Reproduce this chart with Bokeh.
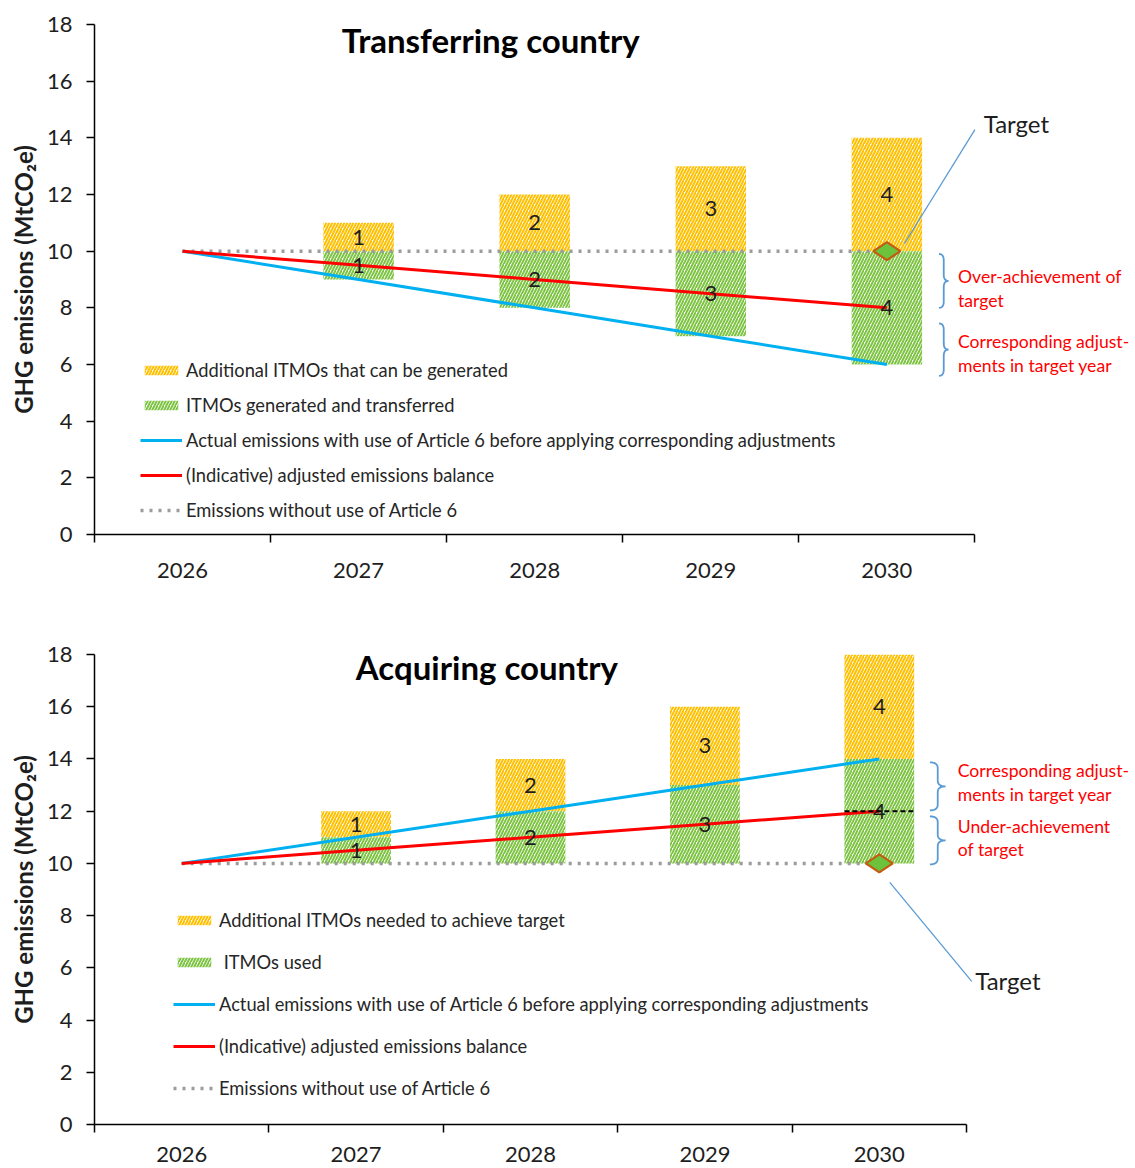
import math
import numpy as np
from bokeh.plotting import figure
from bokeh.models import Range1d, FixedTicker, Legend, LegendItem, ColumnDataSource
from bokeh.layouts import column
from bokeh.embed import file_html
from bokeh.resources import INLINE
from bokeh.core.properties import value

# ---------------- data ----------------
years = ["2026", "2027", "2028", "2029", "2030"]
y_ticks = [0, 2, 4, 6, 8, 10, 12, 14, 16, 18]

# Transferring country
tr_baseline = [10, 10, 10, 10, 10]
tr_actual = [10, 9, 8, 7, 6]
tr_adjusted = [10, 9.5, 9, 8.5, 8]
tr_transferred = [0, 1, 2, 3, 4]
tr_additional = [0, 1, 2, 3, 4]
tr_target = 10

# Acquiring country
aq_baseline = [10, 10, 10, 10, 10]
aq_actual = [10, 11, 12, 13, 14]
aq_adjusted = [10, 10.5, 11, 11.5, 12]
aq_used = [0, 1, 2, 3, 4]
aq_additional = [0, 1, 2, 3, 4]
aq_target = 10

tr_labels = ["Additional ITMOs that can be generated", "ITMOs generated and transferred",
             "Actual emissions with use of Article 6 before applying corresponding adjustments",
             "(Indicative) adjusted emissions balance", "Emissions without use of Article 6"]
aq_labels = ["Additional ITMOs needed to achieve target", " ITMOs used",
             "Actual emissions with use of Article 6 before applying corresponding adjustments",
             "(Indicative) adjusted emissions balance", "Emissions without use of Article 6"]

# ---------------- style ----------------
FONT = "Lato"
ORANGE = "#FFC000"
GREEN = "#7DC443"
BLUE = "#00B0F0"
RED = "#FF0000"
GREY = "#9C9C9C"
BRACE = "#5B9BD5"
TXT = "#1E1E1E"

centers = [i + 0.5 for i in range(len(years))]


def brace_path(x0, x1, ytop, ybot, hook):
    xm = (x0 + x1) / 2
    ymid = (ytop + ybot) / 2
    t = np.linspace(0, 1, 8)

    def quad(p0, p1, p2):
        return [((1 - s) ** 2 * p0[0] + 2 * (1 - s) * s * p1[0] + s ** 2 * p2[0],
                 (1 - s) ** 2 * p0[1] + 2 * (1 - s) * s * p1[1] + s ** 2 * p2[1]) for s in t]
    pts = []
    pts += quad((x0, ytop), (xm, ytop), (xm, ytop - hook))
    pts += quad((xm, ymid + hook), (xm, ymid), (x1, ymid))
    pts += quad((x1, ymid), (xm, ymid), (xm, ymid - hook))
    pts += quad((xm, ybot + hook), (xm, ybot), (x0, ybot))
    xs, ys = zip(*pts)
    return list(xs), list(ys)


def base_fig(height, x_end, border_left, border_top, border_bottom, label_standoff):
    p = figure(width=1135, height=height, x_range=Range1d(0, x_end), y_range=Range1d(0, 18),
               output_backend="svg", toolbar_location=None,
               min_border_left=border_left, min_border_right=0,
               min_border_top=border_top, min_border_bottom=border_bottom)
    p.xgrid.visible = False
    p.ygrid.visible = False
    p.outline_line_color = None
    p.background_fill_color = "white"
    # x axis: labels at category centres, tick marks between categories
    xa = p.xaxis[0]
    xa.ticker = FixedTicker(ticks=centers, minor_ticks=list(range(len(years) + 1)))
    xa.major_label_overrides = {c: y for c, y in zip(centers, years)}
    xa.bounds = (0, len(years))
    xa.major_tick_out = 0
    xa.major_tick_in = 0
    xa.minor_tick_out = 8
    xa.minor_tick_in = 0
    xa.minor_tick_line_color = "black"
    xa.minor_tick_line_width = 1.5
    xa.axis_line_color = "black"
    xa.axis_line_width = 1.5
    xa.major_label_text_font = FONT
    xa.major_label_text_font_size = "22px"
    xa.major_label_text_color = TXT
    xa.major_label_standoff = label_standoff
    # y axis
    ya = p.yaxis[0]
    ya.ticker = FixedTicker(ticks=y_ticks, minor_ticks=[])
    ya.major_tick_out = 8
    ya.major_tick_in = 0
    ya.major_tick_line_width = 1.5
    ya.axis_line_width = 1.5
    ya.axis_line_color = "black"
    ya.major_label_text_font = FONT
    ya.major_label_text_font_size = "22px"
    ya.major_label_text_color = TXT
    ya.major_label_standoff = 14
    ya.axis_label = "GHG emissions (MtCO\u2082e)"
    ya.axis_label_text_font = FONT
    ya.axis_label_text_font_style = "bold"
    ya.axis_label_text_font_size = "24px"
    ya.axis_label_text_color = TXT
    ya.axis_label_standoff = 6
    return p


def draw(p, baseline, actual, adjusted, green_vals, orange_vals, target, green_below, labels,
         legend_loc, legend_spacing):
    idx = [i for i, v in enumerate(green_vals) if v > 0]
    xs = [centers[i] for i in idx]
    if green_below:
        g_bot = [baseline[i] - green_vals[i] for i in idx]
        g_top = [baseline[i] for i in idx]
    else:
        g_bot = [baseline[i] for i in idx]
        g_top = [baseline[i] + green_vals[i] for i in idx]
    o_bot = [g_top[k] if not green_below else baseline[i] for k, i in enumerate(idx)]
    o_top = [o_bot[k] + orange_vals[i] for k, i in enumerate(idx)]

    gsrc = ColumnDataSource(dict(x=xs, bottom=g_bot, top=g_top,
                                 ym=[(a + b) / 2 for a, b in zip(g_bot, g_top)],
                                 t=[str(green_vals[i]) for i in idx]))
    osrc = ColumnDataSource(dict(x=xs, bottom=o_bot, top=o_top,
                                 ym=[(a + b) / 2 for a, b in zip(o_bot, o_top)],
                                 t=[str(orange_vals[i]) for i in idx]))
    r_or = p.vbar(x="x", bottom="bottom", top="top", width=0.4, source=osrc,
                  fill_color="white", line_color=None, hatch_pattern="/",
                  hatch_color=ORANGE, hatch_scale=6, hatch_weight=2)
    r_gr = p.vbar(x="x", bottom="bottom", top="top", width=0.4, source=gsrc,
                  fill_color="white", line_color=None, hatch_pattern="/",
                  hatch_color=GREEN, hatch_scale=6, hatch_weight=2)
    r_base = p.line(centers, baseline, line_color=GREY, line_width=3.5, line_dash="3 6")
    r_act = p.line(centers, actual, line_color=BLUE, line_width=3)
    r_adj = p.line(centers, adjusted, line_color=RED, line_width=3)
    p.scatter([centers[-1]], [target], marker="diamond", size=27, angle=math.pi / 2,
              fill_color="#6CC23A", line_color="#C55A11", line_width=2.2)
    p.text(x="x", y="ym", text="t", source=osrc, text_font=value(FONT), text_font_size="22px",
           text_color=TXT, text_align="center", text_baseline="middle")
    p.text(x="x", y="ym", text="t", source=gsrc, text_font=value(FONT), text_font_size="22px",
           text_color=TXT, text_align="center", text_baseline="middle")

    legend = Legend(items=[LegendItem(label=labels[0], renderers=[r_or]),
                           LegendItem(label=labels[1], renderers=[r_gr]),
                           LegendItem(label=labels[2], renderers=[r_act]),
                           LegendItem(label=labels[3], renderers=[r_adj]),
                           LegendItem(label=labels[4], renderers=[r_base])],
                    location=legend_loc, orientation="vertical", glyph_width=42, glyph_height=12,
                    label_height=22, label_standoff=4, spacing=legend_spacing, padding=0, margin=0,
                    border_line_color=None, background_fill_alpha=0,
                    label_text_font=FONT, label_text_font_size="18.3px", label_text_color="#262626")
    p.add_layout(legend)
    return xs


def annotate(p, title, title_xy, target_xy, callout, braces, brace_x, red_x, red_lines):
    p.text(x=[title_xy[0]], y=[title_xy[1]], text=[title], text_font=value(FONT),
           text_font_style="bold", text_font_size="33px", text_color="black",
           text_align="center", text_baseline="middle")
    p.line(x=[callout[0], callout[2]], y=[callout[1], callout[3]], line_color=BRACE, line_width=1.3)
    p.text(x=[target_xy[0]], y=[target_xy[1]], text=["Target"], text_font=value(FONT),
           text_font_size="24px", text_color=TXT, text_align="left", text_baseline="middle")
    for (yt, yb) in braces:
        bx, by = brace_path(brace_x[0], brace_x[1], yt, yb, 0.22)
        p.line(bx, by, line_color=BRACE, line_width=1.8)
    p.text(x=[red_x] * len(red_lines), y=[v for v, _ in red_lines], text=[s for _, s in red_lines],
           text_font=value(FONT), text_font_size="17.6px", text_color=RED,
           text_align="left", text_baseline="middle")


# ---------------- top chart ----------------
p1 = base_fig(height=584, x_end=5.912, border_left=91, border_top=24, border_bottom=50,
              label_standoff=20)
draw(p1, tr_baseline, tr_actual, tr_adjusted, tr_transferred, tr_additional, tr_target,
     True, tr_labels, (46, 13), 13)
annotate(p1, "Transferring country", (2.25, 17.45), (5.05, 14.5), (4.60, 10.27, 5.0, 14.29),
         [(9.9, 8.0), (7.45, 5.6)], (4.796, 4.85), 4.904,
         [(9.10, "Over-achievement of"), (8.26, "target"),
          (6.81, "Corresponding adjust-"), (5.96, "ments in target year")])

# ---------------- bottom chart ----------------
p2 = base_fig(height=582, x_end=5.969, border_left=94, border_top=70, border_bottom=42,
              label_standoff=14)
draw(p2, aq_baseline, aq_actual, aq_adjusted, aq_used, aq_additional, aq_target,
     False, aq_labels, (79, 25), 20)
# dashed marker of the adjusted balance in the target year
p2.line(x=[centers[-1] - 0.2, centers[-1] + 0.2], y=[aq_adjusted[-1], aq_adjusted[-1]],
        line_color="black", line_width=2, line_dash="5 3")
annotate(p2, "Acquiring country", (2.25, 17.54), (5.05, 5.52), (4.56, 9.27, 5.03, 5.48),
         [(13.87, 12.03), (11.8, 9.96)], (4.79, 4.88), 4.95,
         [(13.56, "Corresponding adjust-"), (12.64, "ments in target year"),
          (11.42, "Under-achievement"), (10.54, "of target")])

layout = column(p1, p2, spacing=0)
open("out.html", "w").write(file_html(layout, INLINE))
